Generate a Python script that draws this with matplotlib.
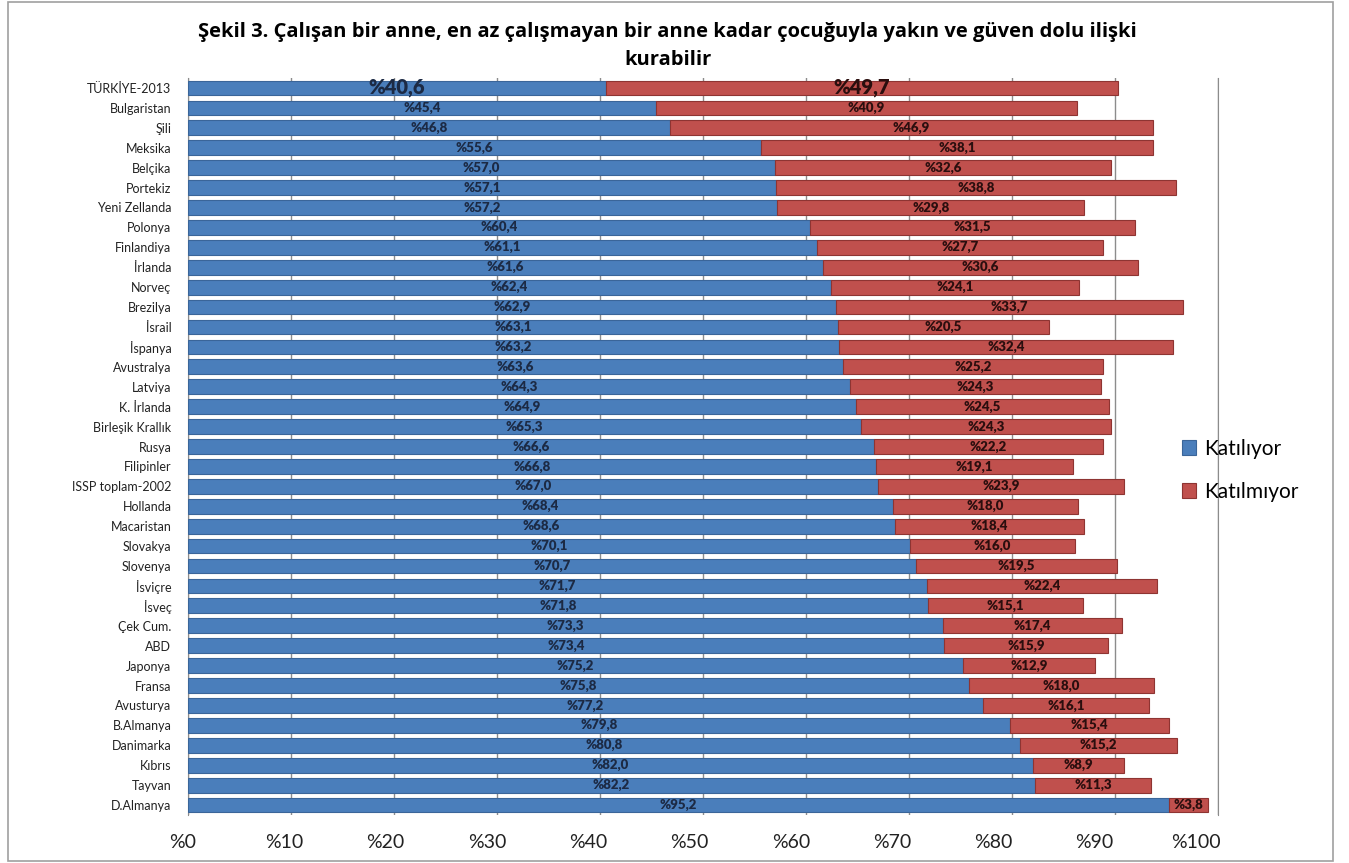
import matplotlib.pyplot as plt
import matplotlib.transforms as mtransforms
from matplotlib.patches import Rectangle

plt.rcParams['font.family'] = ['Lato', 'DejaVu Sans']

# data
countries = ['TÜRKİYE-2013', 'Bulgaristan', 'Şili', 'Meksika', 'Belçika', 'Portekiz',
             'Yeni Zellanda', 'Polonya', 'Finlandiya', 'İrlanda', 'Norveç', 'Brezilya',
             'İsrail', 'İspanya', 'Avustralya', 'Latviya', 'K. İrlanda', 'Birleşik Krallık',
             'Rusya', 'Filipinler', 'ISSP toplam-2002', 'Hollanda', 'Macaristan', 'Slovakya',
             'Slovenya', 'İsviçre', 'İsveç', 'Çek Cum.', 'ABD', 'Japonya', 'Fransa',
             'Avusturya', 'B.Almanya', 'Danimarka', 'Kıbrıs', 'Tayvan', 'D.Almanya']
katiliyor = [40.6, 45.4, 46.8, 55.6, 57.0, 57.1, 57.2, 60.4, 61.1, 61.6, 62.4, 62.9,
             63.1, 63.2, 63.6, 64.3, 64.9, 65.3, 66.6, 66.8, 67.0, 68.4, 68.6, 70.1,
             70.7, 71.7, 71.8, 73.3, 73.4, 75.2, 75.8, 77.2, 79.8, 80.8, 82.0, 82.2, 95.2]
katilmiyor = [49.7, 40.9, 46.9, 38.1, 32.6, 38.8, 29.8, 31.5, 27.7, 30.6, 24.1, 33.7,
              20.5, 32.4, 25.2, 24.3, 24.5, 24.3, 22.2, 19.1, 23.9, 18.0, 18.4, 16.0,
              19.5, 22.4, 15.1, 17.4, 15.9, 12.9, 18.0, 16.1, 15.4, 15.2, 8.9, 11.3, 3.8]
xticks = list(range(0, 101, 10))

blue = '#4A7EBB'
red = '#C0504D'

fig = plt.figure(figsize=(13.49, 8.63), dpi=100)
ax = fig.add_axes([0.1394, 0.0556, 0.7635, 0.854])

y = list(range(len(countries)))
b1 = ax.barh(y, katiliyor, height=0.74, color=blue, edgecolor='#3A6599',
             linewidth=0.8, label='Katılıyor', zorder=3)
b2 = ax.barh(y, katilmiyor, left=katiliyor, height=0.74, color=red,
             edgecolor='#8E3432', linewidth=0.8, label='Katılmıyor', zorder=3)

def fmt(v):
    return '%' + ('%.1f' % v).replace('.', ',')

for i in y:
    big = (i == 0)
    fs = 14.5 if big else 9.5
    ax.text(katiliyor[i] / 2, i, fmt(katiliyor[i]), ha='center', va='center',
            fontsize=fs, fontweight='heavy', color='#1C2A44', zorder=4)
    ax.text(katiliyor[i] + katilmiyor[i] / 2, i, fmt(katilmiyor[i]), ha='center',
            va='center', fontsize=fs, fontweight='heavy', color='#2A0E0E', zorder=4)

ax.set_xlim(0, 100)
ax.set_ylim(len(countries) - 0.5, -0.5)
ax.set_yticks(y)
ax.set_yticklabels(countries, fontsize=9)
ax.set_xticks(xticks)
ax.set_xticklabels(['%' + str(t) for t in xticks], fontsize=14)
ax.tick_params(axis='both', length=0, colors='#222222')
ax.tick_params(axis='x', pad=14)
ax.tick_params(axis='y', pad=12)
# the original's 3D floor pulls the tick labels a little to the left
for t, lab in zip(xticks, ax.get_xticklabels()):
    off = mtransforms.ScaledTranslation(-(5 + 0.17 * t) / 100, 0, fig.dpi_scale_trans)
    lab.set_transform(lab.get_transform() + off)
ax.grid(axis='x', color='#8C8C8C', linewidth=1.0, zorder=0)
for s in ['top', 'bottom']:
    ax.spines[s].set_visible(False)
ax.spines['left'].set_color('#8C8C8C')
ax.spines['right'].set_color('#8C8C8C')

fig.suptitle('Şekil 3. Çalışan bir anne, en az çalışmayan bir anne kadar çocuğuyla yakın ve güven dolu ilişki\nkurabilir',
             x=0.495, y=0.974, fontsize=14.5, fontweight='bold', linespacing=1.5,
             family=['Open Sans', 'DejaVu Sans'])

fig.legend(handles=[b1, b2], loc='center left', bbox_to_anchor=(0.862, 0.455),
           frameon=False, fontsize=15, handlelength=0.7, handleheight=0.7,
           handletextpad=0.4, labelspacing=1.1)

fig.patches.append(Rectangle((0.006, 0.002), 0.982, 0.996, transform=fig.transFigure,
                             fill=False, edgecolor='#A0A0A0', linewidth=1.2))

fig.savefig('out.png', dpi=100)
